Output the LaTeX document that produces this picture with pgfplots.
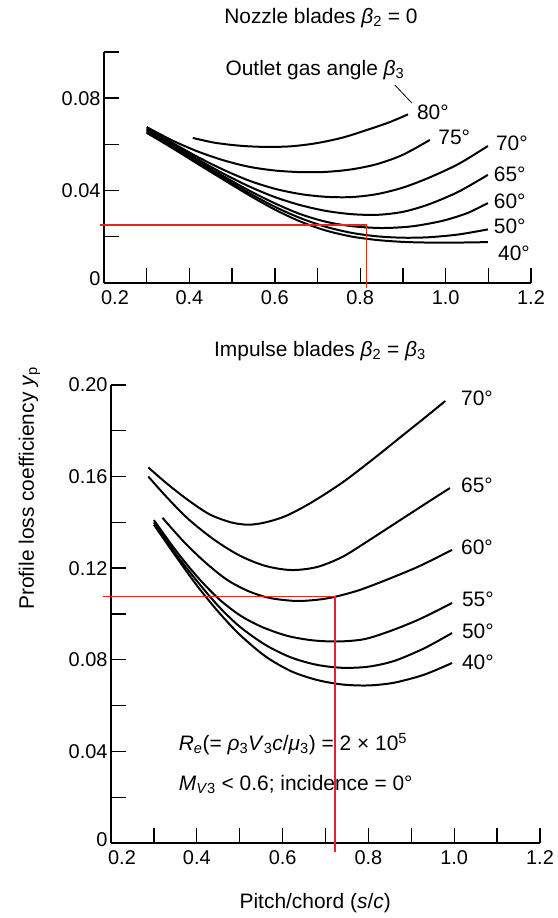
\documentclass[border=0pt]{standalone}
\usepackage{fontspec}
\setmainfont{Liberation Sans}
\usepackage{pgfplots}
\pgfplotsset{compat=1.18}
\definecolor{redline}{RGB}{226,38,38}
\newcommand\lbl{\fontsize{21}{24}\selectfont}
\newcommand\tkl{\fontsize{20}{22}\selectfont}
\pgfplotsset{myax/.style={
  scale only axis, anchor=south west,
  xmin=0.2, xmax=1.2,
  axis lines*=left, axis line style={line width=1.8pt,-},
  tick align=inside, major tick length=15bp,
  tick style={line width=1.4pt,black},
  xtick={0.2,0.3,0.4,0.5,0.6,0.7,0.8,0.9,1.0,1.1,1.2},
  xticklabels={\hspace{22bp}0.2,,0.4,,0.6,,0.8,,1.0,,1.2},
  tick label style={font=\tkl},
  xticklabel style={yshift=-4bp},
  label style={font=\lbl}, title style={font=\lbl},
  clip=false,
  cycle list={black,solid,line width=2pt,smooth,mark=none\\},
}}
\begin{document}
\begin{tikzpicture}
% ---------------- Nozzle blades ----------------
\begin{axis}[myax, at={(104bp,635bp)}, width=427bp, height=231bp,
  ymin=0, ymax=0.1,
  ytick={0,0.02,0.04,0.06,0.08,0.1},
  yticklabels={\raisebox{8bp}{0},,0.04,,0.08,},
  title={Nozzle blades \textit{β}\textsubscript{2} = 0},
  title style={at={(axis description cs:0.508,1.123)}, anchor=center},
]
% 80
\addplot coordinates {(0.408,0.0628) (0.46,0.0607) (0.52,0.0594) (0.58,0.0589) (0.64,0.0592) (0.70,0.0606) (0.76,0.0630) (0.82,0.0665) (0.87,0.0697) (0.912,0.0730)};
% 75
\addplot coordinates {(0.30,0.0675) (0.36,0.0617) (0.42,0.0569) (0.48,0.0531) (0.54,0.0503) (0.60,0.0487) (0.66,0.0480) (0.72,0.0481) (0.78,0.0492) (0.84,0.0515) (0.90,0.0555) (0.963,0.0619)};
% 70
\addplot coordinates {(0.30,0.0670) (0.36,0.0607) (0.42,0.0545) (0.48,0.0490) (0.54,0.0443) (0.60,0.0408) (0.66,0.0385) (0.72,0.0373) (0.78,0.0372) (0.84,0.0385) (0.90,0.0413) (0.96,0.0455) (1.03,0.0515) (1.099,0.0593)};
% 65
\addplot coordinates {(0.30,0.0665) (0.36,0.0600) (0.42,0.0535) (0.48,0.0473) (0.54,0.0418) (0.60,0.0372) (0.66,0.0337) (0.72,0.0312) (0.78,0.0298) (0.84,0.0295) (0.90,0.0308) (0.96,0.0340) (1.03,0.0395) (1.099,0.0468)};
% 60
\addplot coordinates {(0.30,0.0660) (0.36,0.0594) (0.42,0.0527) (0.48,0.0462) (0.54,0.0400) (0.60,0.0345) (0.66,0.0298) (0.72,0.0265) (0.78,0.0246) (0.85,0.0238) (0.92,0.0245) (0.99,0.0268) (1.05,0.0302) (1.099,0.0346)};
% 50
\addplot coordinates {(0.30,0.0655) (0.36,0.0589) (0.42,0.0521) (0.48,0.0454) (0.54,0.0389) (0.60,0.0330) (0.66,0.0281) (0.72,0.0243) (0.78,0.0217) (0.84,0.0202) (0.90,0.0196) (0.96,0.0198) (1.03,0.0210) (1.099,0.0232)};
% 40
\addplot coordinates {(0.30,0.0650) (0.36,0.0584) (0.42,0.0515) (0.48,0.0447) (0.54,0.0380) (0.60,0.0318) (0.66,0.0266) (0.72,0.0227) (0.78,0.0201) (0.84,0.0186) (0.90,0.0178) (0.96,0.0175) (1.03,0.0175) (1.099,0.0177)};
% red guide
\addplot[redline, line width=1.2pt, sharp plot] coordinates {(0.19,0.0251) (0.814,0.0251) (0.814,-0.002)};
% leader
\draw[line width=0.8pt] (axis cs:0.881,0.0857) -- (axis cs:0.921,0.0779);
\node[font=\lbl, anchor=center] at (axis description cs:0.494,0.922) {Outlet gas angle \textit{β}\textsubscript{3}};
\node[font=\lbl, anchor=west] at (axis cs:0.925,0.0738) {80°};
\node[font=\lbl, anchor=west] at (axis cs:0.975,0.0630) {75°};
\node[font=\lbl, anchor=west] at (axis cs:1.110,0.0604) {70°};
\node[font=\lbl, anchor=west] at (axis cs:1.105,0.0472) {65°};
\node[font=\lbl, anchor=west] at (axis cs:1.105,0.0355) {60°};
\node[font=\lbl, anchor=west] at (axis cs:1.105,0.0247) {50°};
\node[font=\lbl, anchor=west] at (axis cs:1.115,0.0128) {40°};
\end{axis}
% ---------------- Impulse blades ----------------
\begin{axis}[myax, at={(111bp,75bp)}, width=429bp, height=458bp,
  ymin=0, ymax=0.2,
  ytick={0,0.02,0.04,0.06,0.08,0.1,0.12,0.14,0.16,0.18,0.2},
  yticklabels={\raisebox{7bp}{0},,0.04,,0.08,,0.12,,0.16,,0.20},
  title={Impulse blades \textit{β}\textsubscript{2} = \textit{β}\textsubscript{3}},
  title style={at={(axis description cs:0.487,1.062)}, anchor=center},
  xlabel={Pitch/chord (\textit{s}/\textit{c})},
  xlabel style={at={(axis description cs:0.476,-0.131)}, anchor=center},
  ylabel={Profile loss coefficiency \textit{y}\textsubscript{p}},
  ylabel style={at={(axis description cs:-0.190,0.775)}, anchor=center},
]
% 70
\addplot coordinates {(0.287,0.164) (0.33,0.157) (0.38,0.1497) (0.43,0.1435) (0.48,0.1400) (0.52,0.1390) (0.56,0.1400) (0.61,0.1430) (0.67,0.1490) (0.74,0.1575) (0.81,0.1675) (0.88,0.1780) (0.94,0.1870) (0.979,0.1930)};
% 65
\addplot coordinates {(0.287,0.160) (0.33,0.151) (0.38,0.1415) (0.44,0.1325) (0.50,0.1255) (0.56,0.1210) (0.62,0.1192) (0.68,0.1205) (0.74,0.1250) (0.80,0.1320) (0.87,0.1405) (0.94,0.1490) (0.99,0.1550)};
% 60
\addplot coordinates {(0.32,0.142) (0.37,0.1315) (0.42,0.1225) (0.47,0.1150) (0.52,0.1100) (0.57,0.1070) (0.63,0.1057) (0.68,0.1062) (0.722,0.1075) (0.78,0.1105) (0.85,0.1155) (0.92,0.1210) (0.995,0.1280)};
% 55
\addplot coordinates {(0.30,0.141) (0.35,0.128) (0.40,0.1165) (0.45,0.1068) (0.50,0.0995) (0.55,0.0945) (0.61,0.0905) (0.67,0.0885) (0.73,0.0880) (0.79,0.0890) (0.85,0.0925) (0.92,0.0978) (0.995,0.1048)};
% 50
\addplot coordinates {(0.30,0.140) (0.35,0.1265) (0.40,0.1145) (0.45,0.1035) (0.50,0.0945) (0.56,0.0865) (0.62,0.0810) (0.68,0.0778) (0.74,0.0765) (0.80,0.0770) (0.86,0.0795) (0.93,0.0850) (0.995,0.0917)};
% 40
\addplot coordinates {(0.30,0.139) (0.35,0.1255) (0.40,0.1125) (0.45,0.1010) (0.50,0.0910) (0.56,0.0815) (0.62,0.0750) (0.68,0.0712) (0.74,0.0692) (0.80,0.0688) (0.86,0.0700) (0.93,0.0735) (0.995,0.0786)};
% red guide
\addplot[redline, line width=1.2pt, sharp plot] coordinates {(0.182,0.1075) (0.722,0.1075) (0.722,-0.004)};
\node[font=\lbl, anchor=west] at (axis cs:1.008,0.194) {70°};
\node[font=\lbl, anchor=west] at (axis cs:1.008,0.156) {65°};
\node[font=\lbl, anchor=west] at (axis cs:1.008,0.129) {60°};
\node[font=\lbl, anchor=west] at (axis cs:1.010,0.1066) {55°};
\node[font=\lbl, anchor=west] at (axis cs:1.010,0.0926) {50°};
\node[font=\lbl, anchor=west] at (axis cs:1.010,0.0790) {40°};
\node[font=\lbl, anchor=west] at (axis description cs:0.150,0.216) {\textit{R}\textsubscript{\textit{e}}(= \textit{ρ}\textsubscript{3}\textit{V}\textsubscript{3}\textit{c}/\textit{μ}\textsubscript{3}) = 2 × 10\textsuperscript{5}};
\node[font=\lbl, anchor=west] at (axis description cs:0.150,0.127) {\textit{M}\textsubscript{\textit{V}3} < 0.6; incidence = 0°};
\end{axis}
\pgfresetboundingbox
\useasboundingbox (0,0) rectangle (558bp,918bp);
\end{tikzpicture}
\end{document}
